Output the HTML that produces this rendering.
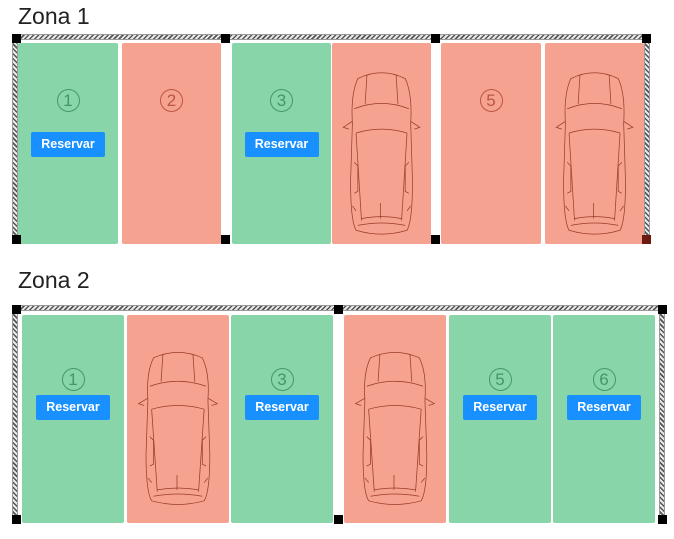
<!DOCTYPE html>
<html><head><meta charset="utf-8"><style>
*{margin:0;padding:0;box-sizing:border-box}
body{width:674px;height:539px;background:#fff;position:relative;overflow:hidden;font-family:"Liberation Sans",sans-serif}
.t{position:absolute;font-size:23px;color:#222}
.hb{position:absolute;height:6px;background:repeating-linear-gradient(135deg,#555 0 1.5px,#e8e8e8 1.5px 3.5px);border:1px solid #999}
.vb{position:absolute;width:6px;background:repeating-linear-gradient(45deg,#555 0 1.5px,#e8e8e8 1.5px 3.5px);border:1px solid #999}
.p{position:absolute;width:9px;height:9px;background:#000}
.s{position:absolute;border-radius:2px}
.g{background:#88d5aa}
.r{background:#f5a390}
.n{position:absolute;left:0;right:0;text-align:center;font-size:21px}
.g .n{color:#2f8a56}
.r .n{color:#b04030}
.n span{display:inline-block;width:23px;height:23px;line-height:22px;border:1px solid currentColor;border-radius:50%;font-size:17px;opacity:.8}
.b{position:absolute;left:50%;margin-left:-37px;width:74px;height:25px;background:#1890ff;color:#fff;font-weight:bold;font-size:12.5px;line-height:25px;text-align:center;border-radius:2px}
.car{position:absolute;left:4%;width:92%}
</style></head><body>
<svg width="0" height="0" style="position:absolute"><defs>
<symbol id="car" viewBox="0 0 100 180">
<g fill="none" stroke="#9c3a2a" stroke-width="0.8">
<path d="M24 14 Q50 2 76 14 Q84 30 82 60 L84 120 Q84 160 78 170 Q50 178 22 170 Q16 160 16 120 L18 60 Q16 30 24 14Z"/>
<path d="M34 10 L32 40 M66 10 L68 40"/>
<path d="M20 45 Q50 34 80 45"/>
<path d="M22 70 Q50 62 78 70"/>
<path d="M22 70 L28 160 M78 70 L72 160"/>
<path d="M24 165 Q50 160 76 165"/>
<path d="M28 158 Q50 154 72 158"/>
<path d="M18 58 L8 64 L14 66 M82 58 L92 64 L86 66"/>
<path d="M20 100 L24 104 L24 130 L20 132 M80 100 L76 104 L76 130 L80 132"/>
<path d="M18 145 L22 150 M82 145 L78 150"/>
<path d="M49 142 L49 158"/>
</g></symbol></defs></svg>

<div class="t" style="left:18px;top:3px">Zona 1</div>
<div class="hb" style="left:12px;top:34px;width:639px"></div>
<div class="vb" style="left:12px;top:40px;height:204px"></div>
<div class="vb" style="left:644px;top:40px;height:204px"></div>

<div class="s g" style="left:18px;top:43px;width:100px;height:201px"><div class="n" style="top:45px"><span>1</span></div><div class="b" style="top:89px">Reservar</div></div>
<div class="s r" style="left:122px;top:43px;width:99px;height:201px"><div class="n" style="top:45px"><span>2</span></div></div>
<div class="s g" style="left:232px;top:43px;width:99px;height:201px"><div class="n" style="top:45px"><span>3</span></div><div class="b" style="top:89px">Reservar</div></div>
<div class="s r" style="left:332px;top:43px;width:99px;height:201px"><svg class="car" style="top:22px;height:175px" viewBox="0 0 100 180" preserveAspectRatio="none"><use href="#car"/></svg></div>
<div class="s r" style="left:441px;top:43px;width:100px;height:201px"><div class="n" style="top:45px"><span>5</span></div></div>
<div class="s r" style="left:545px;top:43px;width:99px;height:201px"><svg class="car" style="top:22px;height:175px" viewBox="0 0 100 180" preserveAspectRatio="none"><use href="#car"/></svg></div>

<div class="p" style="left:12px;top:34px"></div>
<div class="p" style="left:221px;top:34px"></div>
<div class="p" style="left:431px;top:34px"></div>
<div class="p" style="left:642px;top:34px"></div>
<div class="p" style="left:12px;top:235px"></div>
<div class="p" style="left:221px;top:235px"></div>
<div class="p" style="left:431px;top:235px"></div>
<div class="p" style="left:642px;top:235px;background:#6a1a10"></div>

<div class="t" style="left:18px;top:267px">Zona 2</div>
<div class="hb" style="left:12px;top:305px;width:655px"></div>
<div class="vb" style="left:12px;top:311px;height:213px"></div>
<div class="vb" style="left:659px;top:311px;height:213px"></div>

<div class="s g" style="left:22px;top:315px;width:102px;height:208px"><div class="n" style="top:52px"><span>1</span></div><div class="b" style="top:80px">Reservar</div></div>
<div class="s r" style="left:127px;top:315px;width:102px;height:208px"><svg class="car" style="top:30px;height:165px" viewBox="0 0 100 180" preserveAspectRatio="none"><use href="#car"/></svg></div>
<div class="s g" style="left:231px;top:315px;width:102px;height:208px"><div class="n" style="top:52px"><span>3</span></div><div class="b" style="top:80px">Reservar</div></div>
<div class="s r" style="left:344px;top:315px;width:102px;height:208px"><svg class="car" style="top:30px;height:165px" viewBox="0 0 100 180" preserveAspectRatio="none"><use href="#car"/></svg></div>
<div class="s g" style="left:449px;top:315px;width:102px;height:208px"><div class="n" style="top:52px"><span>5</span></div><div class="b" style="top:80px">Reservar</div></div>
<div class="s g" style="left:553px;top:315px;width:102px;height:208px"><div class="n" style="top:52px"><span>6</span></div><div class="b" style="top:80px">Reservar</div></div>

<div class="p" style="left:12px;top:305px"></div>
<div class="p" style="left:334px;top:305px"></div>
<div class="p" style="left:658px;top:305px"></div>
<div class="p" style="left:12px;top:515px"></div>
<div class="p" style="left:334px;top:515px"></div>
<div class="p" style="left:658px;top:515px"></div>
</body></html>
